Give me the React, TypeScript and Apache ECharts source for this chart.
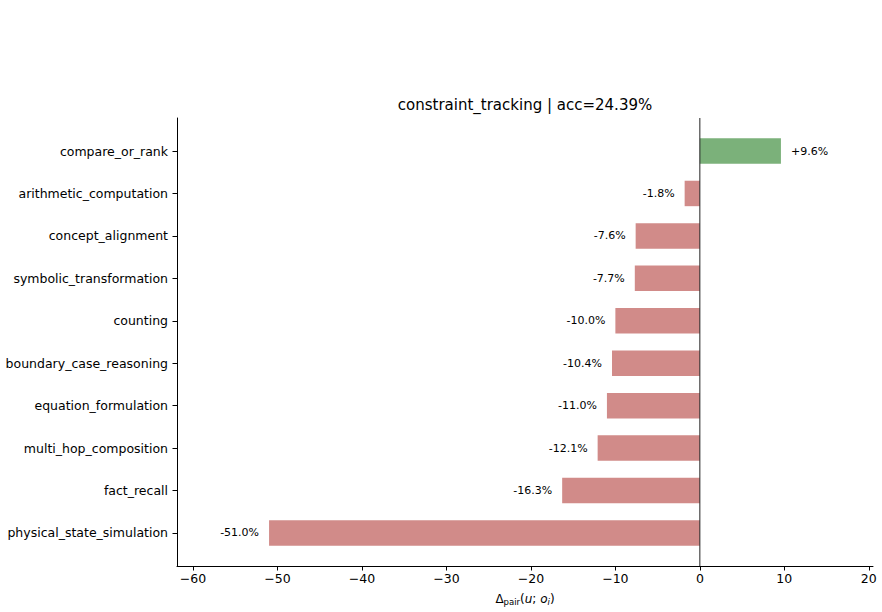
import React, { useEffect, useRef } from "react";
import * as echarts from "echarts";

// Skill categories, top to bottom
const categories = [
  "compare_or_rank",
  "arithmetic_computation",
  "concept_alignment",
  "symbolic_transformation",
  "counting",
  "boundary_case_reasoning",
  "equation_formulation",
  "multi_hop_composition",
  "fact_recall",
  "physical_state_simulation",
];

// Δ_pair per category, in percent
const deltas = [9.6, -1.8, -7.6, -7.7, -10.0, -10.4, -11.0, -12.1, -16.3, -51.0];

const xTicks = [-60, -50, -40, -30, -20, -10, 0, 10, 20];
const xMin = -61.9;
const xMax = 20.5;

const titleText = "constraint_tracking | acc=24.39%";

const POS_COLOR = "#7bb17a";
const NEG_COLOR = "#d18b89";
const FONT = "DejaVu Sans";

export default function App() {
  const ref = useRef<HTMLDivElement>(null);

  useEffect(() => {
    if (!ref.current) return;
    const chart = echarts.init(ref.current, null, { renderer: "svg" });

    const fmtTick = (v: number) => (v < 0 ? "\u2212" + Math.abs(v) : String(v));

    chart.setOption({
      animation: false,
      backgroundColor: "#ffffff",
      textStyle: { fontFamily: FONT },
      title: {
        text: titleText,
        left: 520,
        top: 92,
        textAlign: "center",
        textStyle: { fontFamily: FONT, fontSize: 15, fontWeight: "normal", color: "#000" },
      },
      grid: [
        // full axes box (spines, ticks, zero line)
        { left: 177, right: 9, top: 118, bottom: 46, containLabel: false, outerBoundsMode: "none" },
        // category band area with matplotlib-style padding
        { left: 177, right: 9, top: 129.8, bottom: 57.8, containLabel: false, outerBoundsMode: "none" },
      ],
      xAxis: [
        {
          type: "value",
          gridIndex: 0,
          position: "bottom",
          min: xMin,
          max: xMax,
          axisLine: { show: true, onZero: false, lineStyle: { color: "#000", width: 1 } },
          axisTick: {
            show: true,
            length: 4.5,
            customValues: xTicks,
            lineStyle: { color: "#000", width: 1 },
          },
          axisLabel: {
            customValues: xTicks,
            formatter: fmtTick,
            fontFamily: FONT,
            fontSize: 12.5,
            color: "#000",
            margin: 6,
          },
          splitLine: { show: false },
          name: "{a|Δ}{sub|pair}{a|(}{i|u}{a|; }{i|o}{isub|i}{a|)}",
          nameLocation: "middle",
          nameGap: 25,
          nameTextStyle: {
            rich: {
              a: { fontFamily: FONT, fontSize: 12, color: "#000" },
              i: { fontFamily: FONT, fontSize: 12, fontStyle: "italic", color: "#000" },
              sub: {
                fontFamily: FONT,
                fontSize: 8.5,
                color: "#000",
                verticalAlign: "bottom",
                padding: [6, 0, 0, 0],
              },
              isub: {
                fontFamily: FONT,
                fontSize: 8.5,
                fontStyle: "italic",
                color: "#000",
                verticalAlign: "bottom",
                padding: [6, 0, 0, 0],
              },
            },
          },
        },
        {
          type: "value",
          gridIndex: 1,
          min: xMin,
          max: xMax,
          show: false,
        },
      ],
      yAxis: [
        {
          type: "value",
          gridIndex: 0,
          position: "left",
          min: 0,
          max: 1,
          axisLine: { show: true, onZero: false, lineStyle: { color: "#000", width: 1 } },
          axisTick: { show: false },
          axisLabel: { show: false },
          splitLine: { show: false },
        },
        {
          type: "category",
          gridIndex: 1,
          data: categories,
          inverse: true,
          axisLine: { show: false, onZero: false },
          axisTick: {
            show: true,
            alignWithLabel: true,
            length: 4.5,
            lineStyle: { color: "#000", width: 1 },
          },
          axisLabel: {
            fontFamily: FONT,
            fontSize: 12.5,
            color: "#000",
            margin: 9,
          },
          splitLine: { show: false },
        },
      ],
      series: [
        {
          // vertical zero reference line
          type: "line",
          xAxisIndex: 0,
          yAxisIndex: 0,
          data: [
            [0, 0],
            [0, 1],
          ],
          symbol: "none",
          lineStyle: { color: "#222222", width: 1 },
          silent: true,
          z: 5,
        },
        {
          type: "bar",
          xAxisIndex: 1,
          yAxisIndex: 1,
          barWidth: "60%",
          data: deltas.map((v) => ({
            value: v,
            itemStyle: { color: v >= 0 ? POS_COLOR : NEG_COLOR },
            label: {
              show: true,
              position: v >= 0 ? "right" : "left",
              distance: 10,
              formatter: (v >= 0 ? "+" : "") + v.toFixed(1) + "%",
              fontFamily: FONT,
              fontSize: 11,
              color: "#000",
            },
          })),
          z: 2,
        },
      ],
    });

    return () => chart.dispose();
  }, []);

  return (
    <div
      ref={ref}
      style={{ position: "fixed", left: 0, top: 0, width: 882, height: 612 }}
    />
  );
}
